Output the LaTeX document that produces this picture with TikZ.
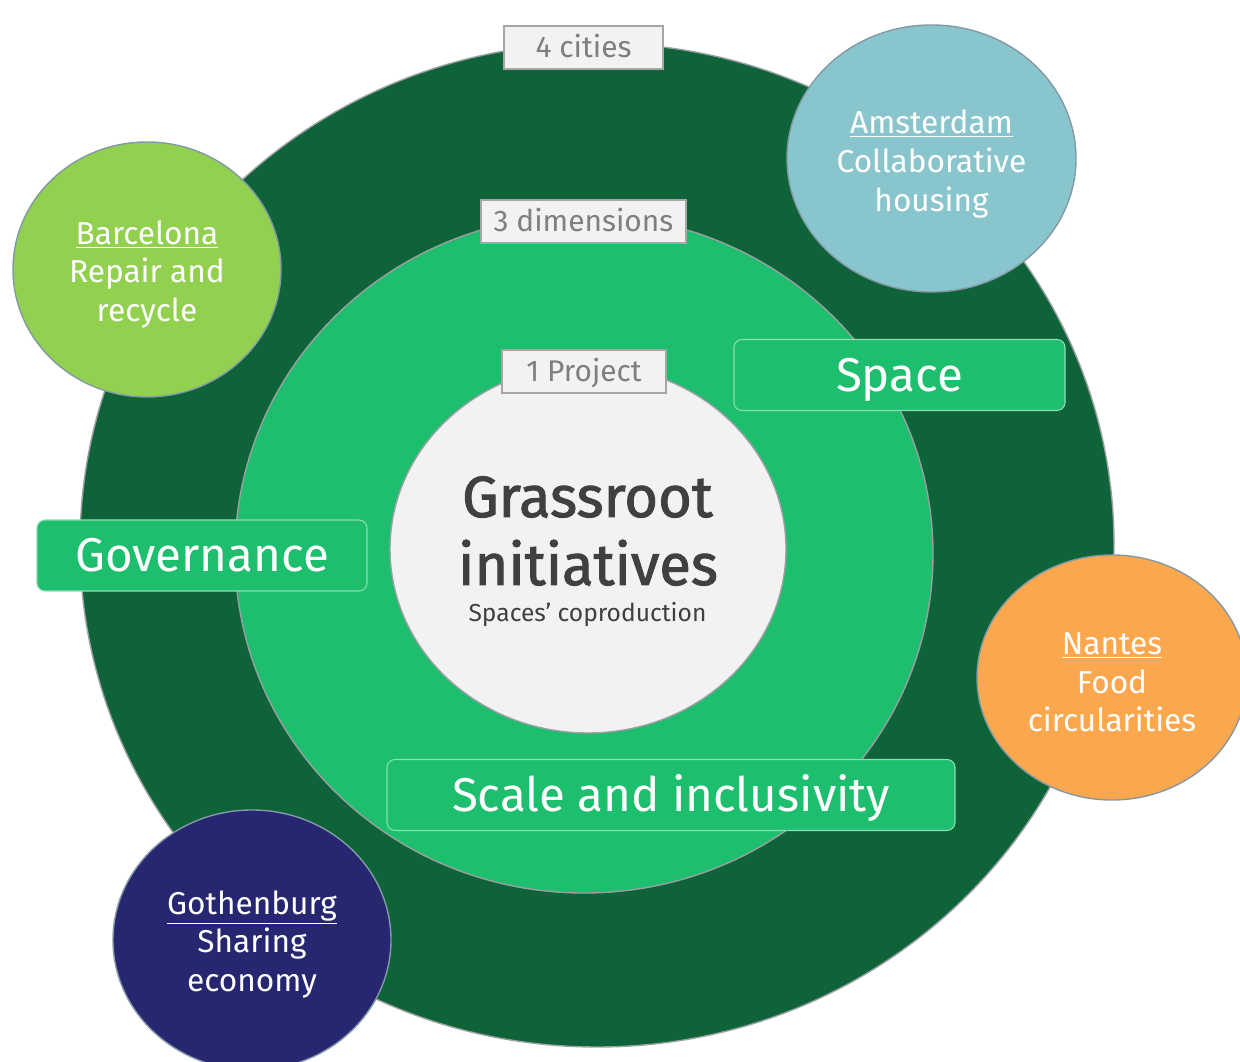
\documentclass[tikz,border=0pt]{standalone}
\usepackage{fontspec}
\setmainfont{Fira Sans}
\newfontfamily\corefont[FakeBold=1.6]{Fira Sans}
\usepackage{tikz}
\usetikzlibrary{positioning, shapes.geometric}

\definecolor{darkgreen}{HTML}{0E6338}
\definecolor{midgreen}{HTML}{1DBF6E}
\definecolor{corefill}{HTML}{F2F2F2}
\definecolor{ringgray}{HTML}{9A9FA3}
\definecolor{citygray}{HTML}{8399A6}
\definecolor{taggray}{HTML}{A6A6A6}
\definecolor{textgray}{HTML}{7F7F7F}
\definecolor{coretext}{HTML}{404040}
\definecolor{boxline}{HTML}{8EDDB4}
\definecolor{barcelona}{HTML}{92D050}
\definecolor{amsterdam}{HTML}{89C5CD}
\definecolor{nantes}{HTML}{FBA74E}
\definecolor{gothenburg}{HTML}{272671}

\begin{document}
\begin{tikzpicture}[
    ring/.style={ellipse, draw=ringgray, line width=0.8pt, inner sep=0pt},
    city/.style={ellipse, draw=citygray, line width=0.8pt, inner sep=0pt},
    citytext/.style={text=white, align=center, inner sep=0pt, font=\fontsize{18}{22}\selectfont},
    tag/.style={rectangle, draw=taggray, fill=corefill, line width=0.8pt, text=textgray,
                minimum height=0.86cm, inner sep=0pt, text height=0.41cm, text depth=0pt,
                font=\fontsize{17}{20}\selectfont},
    dimbox/.style={rectangle, rounded corners=0.16cm, draw=boxline, fill=midgreen,
                   line width=0.6pt, text=white, minimum height=1.42cm, inner sep=0pt,
                   text height=0.65cm, text depth=0pt, font=\fontsize{27}{30}\selectfont},
    core/.style={text=coretext, anchor=base}
]
    \useasboundingbox (0, 0) rectangle (24.8, 21.22);

    % Rings
    \node[ring, fill=darkgreen, minimum width=20.68cm, minimum height=20.08cm] (cities) at (11.94, 10.32) {};
    \node[ring, fill=midgreen, minimum width=13.96cm, minimum height=13.56cm] (dims) at (11.68, 10.14) {};
    \node[ring, fill=corefill, minimum width=7.92cm, minimum height=7.36cm] (project) at (11.76, 10.24) {};

    % Cities
    \node[city, fill=barcelona, minimum width=5.36cm, minimum height=5.10cm] (bcn) at (2.94, 15.83) {};
    \node[city, fill=amsterdam, minimum width=5.78cm, minimum height=5.34cm] (ams) at (18.63, 18.05) {};
    \node[city, fill=nantes, minimum width=5.40cm, minimum height=4.90cm] (nts) at (22.24, 7.67) {};
    \node[city, fill=gothenburg, minimum width=5.56cm, minimum height=5.20cm] (got) at (5.04, 2.42) {};

    \node[citytext] (bcntext) at ([yshift=-1mm]bcn.center) {\underline{Barcelona}\\Repair and\\recycle};
    \node[citytext] (amstext) at ([yshift=-1.1mm]ams.center) {\underline{Amsterdam}\\Collaborative\\housing};
    \node[citytext] (ntstext) at ([yshift=-1mm]nts.center) {\underline{Nantes}\\Food\\circularities};
    \node[citytext] (gottext) at ([yshift=-0.9mm]got.center) {\underline{Gothenburg}\\Sharing\\economy};

    % Dimensions
    \node[dimbox, minimum width=6.60cm] (gov) at (4.04, 10.11) {Governance};
    \node[dimbox, minimum width=6.62cm] (space) at (17.99, 13.72) {Space};
    \node[dimbox, minimum width=11.36cm] (scale) at (13.42, 5.32) {Scale and inclusivity};

    % Tags
    \node[tag, minimum width=3.18cm] (tag4) at (11.67, 20.27) {4 cities};
    \node[tag, minimum width=4.10cm] (tag3) at (11.67, 16.79) {3 dimensions};
    \node[tag, minimum width=3.28cm] (tag1) at (11.68, 13.79) {1 Project};

    % Core text
    \node[core, font=\fontsize{33}{36}\corefont] (grass) at (11.75, 10.88) {Grassroot};
    \node[core, font=\fontsize{33}{36}\corefont] (init) at (11.76, 9.52) {initiatives};
    \node[core, font=\fontsize{14}{16}\selectfont] (coprod) at (11.75, 8.78) {Spaces’ coproduction};

\end{tikzpicture}
\end{document}
